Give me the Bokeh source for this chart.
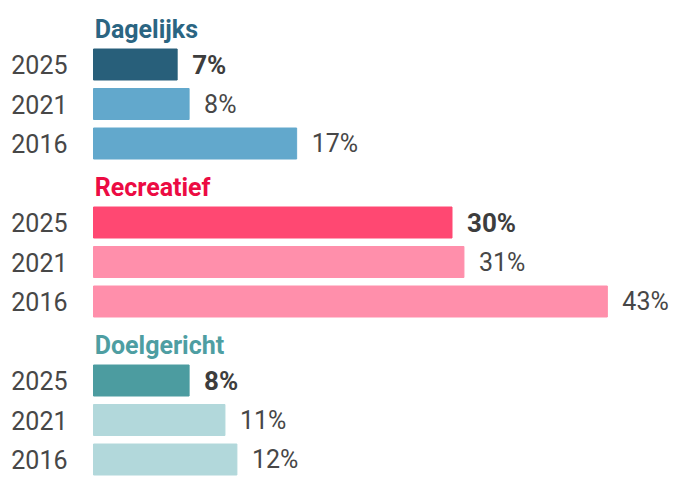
from bokeh.plotting import figure
from bokeh.models import ColumnDataSource, Range1d
from bokeh.core.properties import value
from bokeh.embed import file_html
from bokeh.resources import INLINE

groups = ["Dagelijks", "Recreatief", "Doelgericht"]
years = ["2025", "2021", "2016"]
dagelijks = [7, 8, 17]
recreatief = [30, 31, 43]
doelgericht = [8, 11, 12]

title_colors = ["#2b6582", "#ec0b43", "#4e9ea2"]
dark_colors = ["#285f7a", "#ff4872", "#4c9ca0"]
light_colors = ["#62a8cc", "#ff8fab", "#b2d8db"]

series = [dagelijks, recreatief, doelgericht]

rows, vals, cols, ylabels, vlabels, bold = [], [], [], [], [], []
for g, vs in enumerate(series):
    for k, v in enumerate(vs):
        rows.append(1 + 4 * g + k)
        vals.append(v)
        cols.append(dark_colors[g] if k == 0 else light_colors[g])
        ylabels.append(years[k])
        vlabels.append(f"{v}%")
        bold.append(k == 0)

src = ColumnDataSource(dict(y=rows, v=vals, c=cols, yl=ylabels, vl=vlabels))

px_per_pct = 11.95
row_px = 39.5
W, H = 683, 483
xs = -93 / px_per_pct
p = figure(width=W, height=H, output_backend="svg", toolbar_location=None,
           x_range=Range1d(xs, xs + W / px_per_pct),
           y_range=Range1d(1 + (H - 64) / row_px, 1 + (0 - 64) / row_px),
           x_axis_type=None, y_axis_type=None, min_border=0)
p.outline_line_color = None
p.xgrid.visible = False
p.ygrid.visible = False
p.background_fill_color = "white"
p.border_fill_color = "white"

p.hbar(y="y", left=0, right="v", height=31 / row_px, color="c", source=src)

p.text(x=0, y="y", text="yl", source=src, x_offset=-26, text_align="right",
       text_baseline="middle", text_font=value("Roboto"), text_font_size="25px",
       text_color="#474747")

normal = ColumnDataSource(dict(y=[r for r, b in zip(rows, bold) if not b],
                               v=[x for x, b in zip(vals, bold) if not b],
                               vl=[t for t, b in zip(vlabels, bold) if not b]))
strong = ColumnDataSource(dict(y=[r for r, b in zip(rows, bold) if b],
                               v=[x for x, b in zip(vals, bold) if b],
                               vl=[t for t, b in zip(vlabels, bold) if b]))
p.text(x="v", y="y", text="vl", source=normal, x_offset=15, text_align="left",
       text_baseline="middle", text_font=value("Roboto"), text_font_size="25px",
       text_color="#474747")
p.text(x="v", y="y", text="vl", source=strong, x_offset=15, text_align="left",
       text_baseline="middle", text_font=value("Roboto"), text_font_size="26px",
       text_font_style="bold", text_color="#3d3d3d")

tsrc = ColumnDataSource(dict(x=[0.1] * 3, y=[1 + 4 * g - 35 / row_px for g in range(3)],
                             t=groups, c=title_colors))
p.text(x="x", y="y", text="t", text_color="c", source=tsrc, text_align="left",
       text_baseline="middle", text_font=value("Roboto"), text_font_size="25px",
       text_font_style="bold")

open("out.html", "w").write(file_html(p, INLINE))
